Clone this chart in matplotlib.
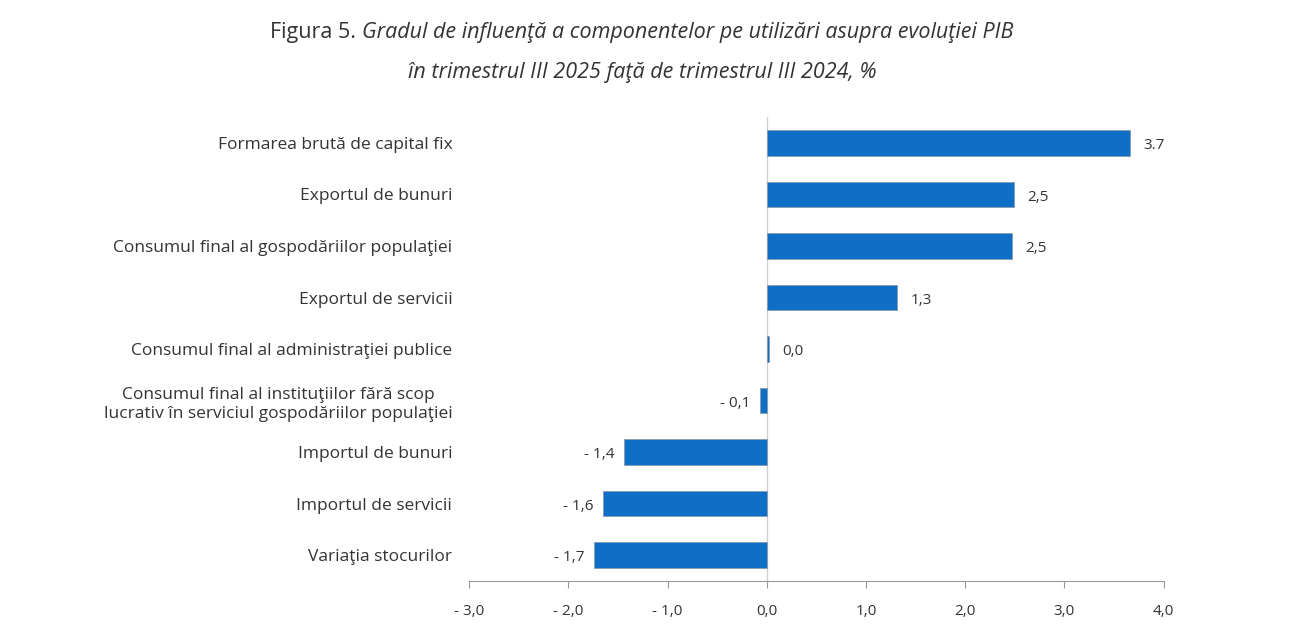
import matplotlib
matplotlib.use("Agg")
import matplotlib.pyplot as plt

plt.rcParams['font.family'] = ['Open Sans', 'DejaVu Sans']

# Data (top to bottom as shown)
categories = [
    "Formarea brută de capital fix",
    "Exportul de bunuri",
    "Consumul final al gospodăriilor populaţiei",
    "Exportul de servicii",
    "Consumul final al administraţiei publice",
    "Consumul final al instituţiilor fără scop\nlucrativ în serviciul gospodăriilor populaţiei",
    "Importul de bunuri",
    "Importul de servicii",
    "Variaţia stocurilor",
]
values = [3.66, 2.49, 2.47, 1.31, 0.02, -0.07, -1.44, -1.65, -1.74]
value_labels = ["3.7", "2,5", "2,5", "1,3", "0,0", "- 0,1", "- 1,4", "- 1,6", "- 1,7"]
x_ticks = [-3, -2, -1, 0, 1, 2, 3, 4]
x_tick_labels = ["- 3,0", "- 2,0", "- 1,0", "0,0", "1,0", "2,0", "3,0", "4,0"]

bar_color = "#0F6FC6"
text_color = "#333333"

fig = plt.figure(figsize=(13, 6.44), dpi=100)
ax = fig.add_axes([0.361, 0.098, 0.534, 0.72])

pos = list(range(len(categories)))[::-1]
ax.barh(pos, values, height=0.5, color=bar_color, edgecolor="#8a9bb0", linewidth=0.6, zorder=3)

for y, v, lab in zip(pos, values, value_labels):
    if v >= 0:
        ax.annotate(lab, (v, y), xytext=(10, -2), textcoords="offset points",
                    ha="left", va="center", fontsize=11, color=text_color)
    else:
        ax.annotate(lab, (v, y), xytext=(-7, -2), textcoords="offset points",
                    ha="right", va="center", fontsize=11, color=text_color)

ax.axvline(0, color="#d0d0d0", linewidth=1, zorder=2)

ax.set_xlim(-3, 4)
ax.set_ylim(-0.5, len(categories) - 0.5)
ax.set_xticks(x_ticks)
ax.set_xticklabels(x_tick_labels, fontsize=11, color=text_color)
ax.set_yticks(pos)
ax.set_yticklabels(categories, fontsize=12.5, color=text_color, multialignment="center",
                   linespacing=1.3)
ax.tick_params(axis="y", length=0, pad=(469 - 452) * 72 / 100)
ax.tick_params(axis="x", length=5, color="#999999", pad=12)

for s in ["top", "right", "left"]:
    ax.spines[s].set_visible(False)
ax.spines["bottom"].set_color("#999999")

# Title: "Figura 5." upright, rest italic
fig.canvas.draw()
renderer = fig.canvas.get_renderer()
part1 = "Figura 5. "
part2 = "Gradul de influenţă a componentelor pe utilizări asupra evoluţiei PIB"
t1 = fig.text(0, 0, part1, fontsize=15.5, color=text_color)
t2 = fig.text(0, 0, part2, fontsize=15.5, color=text_color, style="italic")
w1 = t1.get_window_extent(renderer).width
w2 = t2.get_window_extent(renderer).width
x0 = (fig.bbox.width - (w1 + w2)) / 2 - 8
t1.set_position((x0 / fig.bbox.width, 1 - 38 / 644))
t2.set_position(((x0 + w1) / fig.bbox.width, 1 - 38 / 644))
fig.text(0.494, 1 - 78 / 644, "în trimestrul III 2025 faţă de trimestrul III 2024, %",
         fontsize=15.5, color=text_color, style="italic", ha="center")

fig.savefig("out.png", dpi=100)
